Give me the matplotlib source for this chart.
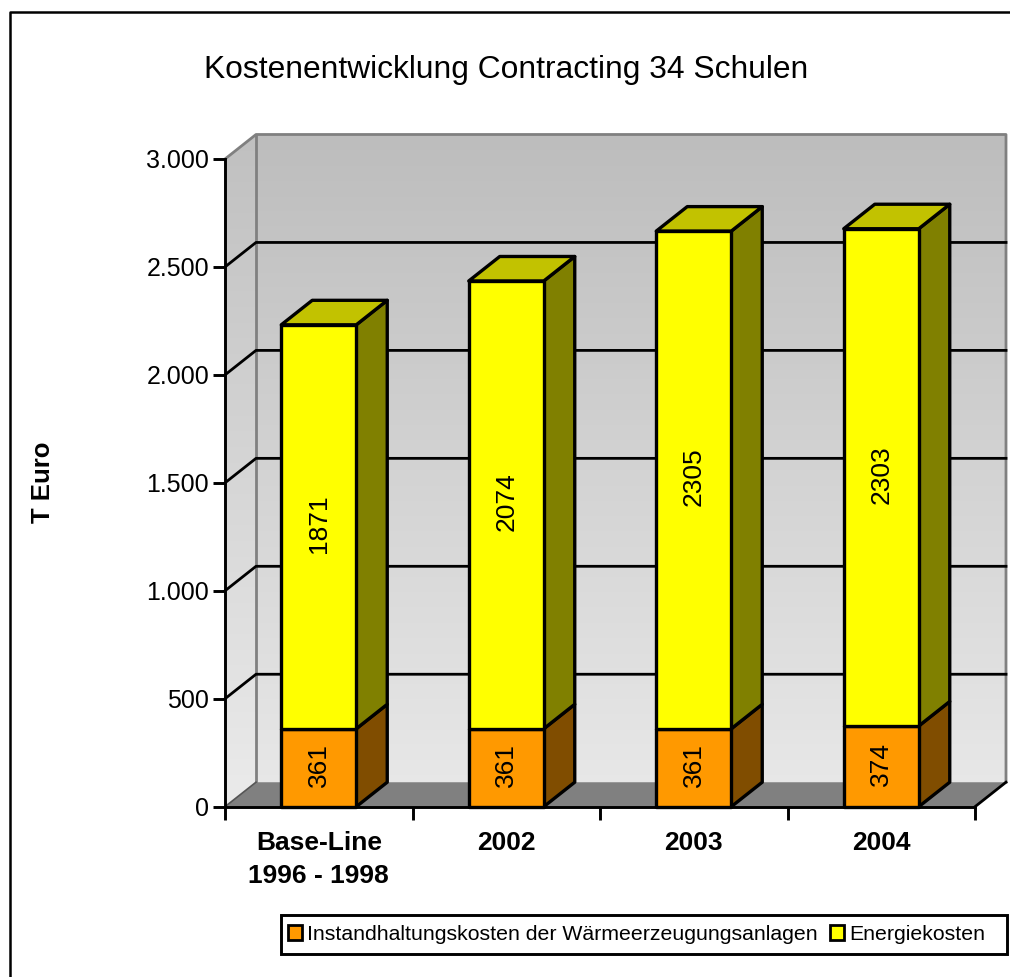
import matplotlib
matplotlib.use("Agg")
import matplotlib.pyplot as plt
import numpy as np
from matplotlib.lines import Line2D
from matplotlib.patches import Patch, Polygon, Rectangle

plt.rcParams["font.family"] = ["Liberation Sans", "DejaVu Sans"]

# data
categories = ["Base-Line\n1996 - 1998", "2002", "2003", "2004"]
instandhaltung = [361, 361, 361, 374]
energie = [1871, 2074, 2305, 2303]
y_ticks = [0, 500, 1000, 1500, 2000, 2500, 3000]
y_tick_labels = ["0", "500", "1.000", "1.500", "2.000", "2.500", "3.000"]

W, H = 1010, 977
X0, X1, Y0, Y1 = 225, 975, 806.7, 159

fig = plt.figure(figsize=(W / 100, H / 100), dpi=100)
ax = fig.add_axes([X0 / W, 1 - Y0 / H, (X1 - X0) / W, (Y0 - Y1) / H])
ax.set_xlim(0, 4)
ax.set_ylim(0, 3000)

# 3d depth, in data units
DX = 31 / ((X1 - X0) / 4)
DY = 24.5 / ((Y0 - Y1) / 3000)
BAR_W = 0.4


def shade(poly, top="#bdbdbd", bottom="#e9e9e9"):
    grad = np.linspace(0, 1, 256).reshape(-1, 1)
    c0 = np.array(matplotlib.colors.to_rgb(top))
    c1 = np.array(matplotlib.colors.to_rgb(bottom))
    img = c0 + (c1 - c0) * grad[..., None]
    im = ax.imshow(img, extent=[0, 4 + DX, 0, 3000 + DY], aspect="auto",
                   origin="upper", zorder=0)
    patch = Polygon(poly, transform=ax.transData, fc="none", ec="none")
    im.set_clip_box(fig.bbox)
    im.set_clip_path(patch)


def face(pts, color, z):
    ax.add_patch(Polygon(pts, closed=True, fc=color, ec="black", lw=2.4,
                         joinstyle="round", clip_on=False, zorder=z))


def bar_label(x, y, value):
    ax.annotate(str(value), (x, y), xytext=(0, 2), textcoords="offset points",
                rotation=90, ha="center", va="center", fontsize=19, zorder=10)


# walls and floor
shade([(DX, DY), (4 + DX, DY), (4 + DX, 3000 + DY), (DX, 3000 + DY)])
shade([(0, 0), (DX, DY), (DX, 3000 + DY), (0, 3000)], "#c0c0c0", "#ebebeb")
ax.set_xlim(0, 4)
ax.set_ylim(0, 3000)
ax.add_patch(Polygon([(0, 0), (4, 0), (4 + DX, DY), (DX, DY)], closed=True,
                     fc="#808080", ec="none", clip_on=False, zorder=1))

# grid lines on the walls
for v in y_ticks[1:-1]:
    ax.plot([0, DX, 4 + DX], [v, v + DY, v + DY], color="black", lw=2,
            clip_on=False, zorder=1.5)
wall = "#808080"
ax.plot([DX, DX], [DY, 3000 + DY], color=wall, lw=2, clip_on=False, zorder=1.2)
ax.plot([0, DX, 4 + DX, 4 + DX], [3000, 3000 + DY, 3000 + DY, DY], color=wall,
        lw=2, clip_on=False, zorder=1.2)
ax.plot([0, DX], [0, DY], color="#555555", lw=1.2, clip_on=False, zorder=1.3)
ax.plot([4, 4 + DX], [0, DY], color="black", lw=2, clip_on=False, zorder=1.3)

# bars
for i in range(len(categories)):
    left = i + 0.5 - BAR_W / 2
    right = left + BAR_W
    a = instandhaltung[i]
    b = a + energie[i]
    z = 3 + i

    face([(right, 0), (right + DX, DY), (right + DX, a + DY), (right, a)], "#804d00", z)
    face([(right, a), (right + DX, a + DY), (right + DX, b + DY), (right, b)], "#808000", z)
    face([(left, b), (right, b), (right + DX, b + DY), (left + DX, b + DY)], "#c2c200", z)
    face([(left, 0), (right, 0), (right, a), (left, a)], "#ff9900", z)
    face([(left, a), (right, a), (right, b), (left, b)], "#ffff00", z)

    bar_label(i + 0.5, a / 2, a)
    bar_label(i + 0.5, a + energie[i] / 2, energie[i])

# axes
for side in ["top", "right"]:
    ax.spines[side].set_visible(False)
for side in ["left", "bottom"]:
    ax.spines[side].set_linewidth(2.1)
    ax.spines[side].set_zorder(2)
ax.set_yticks(y_ticks, y_tick_labels, fontsize=18)
ax.set_xticks(range(5), [""] * 5)
ax.set_xticks([0.5, 1.5, 2.5, 3.5], categories, minor=True, fontsize=19,
              fontweight="bold", linespacing=1.45)
ax.tick_params(axis="y", length=8.5, width=2.1, pad=3)
ax.tick_params(axis="x", which="major", length=9, width=2.1)
ax.tick_params(axis="x", which="minor", length=0, pad=17.5)

fig.text(506 / W, 1 - 70 / H, "Kostenentwicklung Contracting 34 Schulen",
         ha="center", va="center", fontsize=22.9)
fig.text(43 / W, 1 - 482 / H, "T Euro", rotation=90, ha="center", va="center",
         fontsize=18.5, fontweight="bold")

# legend box is wider than its content on the right
fig.add_artist(Rectangle((280.5 / W, 1 - 954 / H), 726 / W, 39 / H, fc="white",
                         ec="black", lw=2.1, transform=fig.transFigure, zorder=4))
handles = [
    Patch(fc="#ff9900", ec="black", lw=2, label="Instandhaltungskosten der Wärmeerzeugungsanlagen"),
    Patch(fc="#ffff00", ec="black", lw=2, label="Energiekosten"),
]
leg = fig.legend(handles=handles, ncol=2, loc="center left", fontsize=15.35,
                 bbox_to_anchor=(288 / W, 1 - 934.5 / H), frameon=False,
                 handlelength=0.66, handleheight=0.66, handletextpad=0.23,
                 columnspacing=0.6, borderpad=0, borderaxespad=0)
leg.set_zorder(5)

# outer frame of the chart
fig.add_artist(Line2D([10 / W, 10 / W, 1], [0, 1 - 12 / H, 1 - 12 / H],
                      color="black", lw=1.8, transform=fig.transFigure))

fig.savefig("out.png", dpi=100)
